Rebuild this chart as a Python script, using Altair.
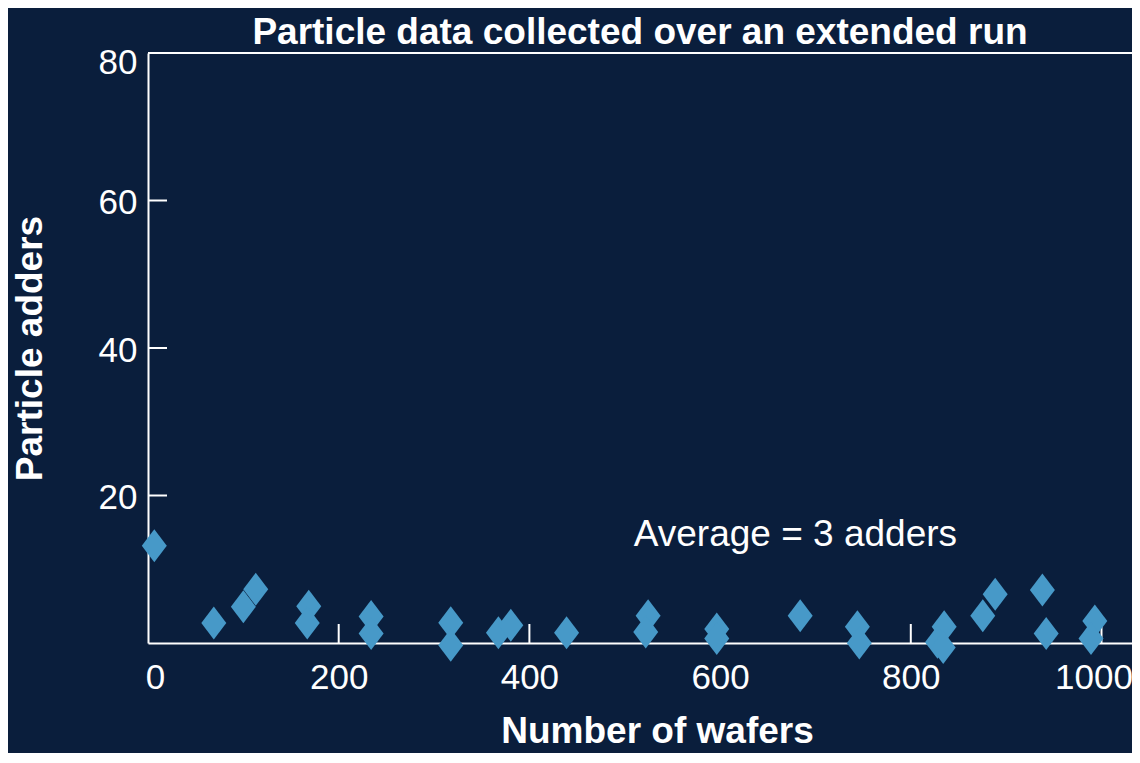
import altair as alt
import pandas as pd

# Data
wafers = [6.6, 69, 100, 113, 168.6, 167, 234, 234, 317.5, 317.5, 367.5, 380.5, 439,
          524.5, 522, 596.5, 596.5, 684, 744, 746, 835, 828, 834, 875.5, 888.5,
          938, 942, 993, 989]
adders = [13.2, 2.7, 4.9, 7.3, 5.0, 2.7, 3.6, 1.3, 2.75, -0.3, 1.4, 2.4, 1.4,
          3.7, 1.5, 1.9, 0.6, 3.7, 2.2, 0.0, 2.2, 0.1, -0.6, 3.7, 6.6,
          7.2, 1.3, 3.0, 0.6]
x_ticks = [0, 200, 400, 600, 800, 1000]
y_ticks = [20, 40, 60, 80]
inner_x_ticks = [200, 400, 600, 800, 1000]
inner_y_ticks = [20, 40, 60]
x_domain = [0, 1032]
y_domain = [0, 80]
note_text = "Average = 3 adders"
note_x = [679]
note_y = [14.6]

BG = "#0a1e3c"
FG = "#ffffff"
PT = "#4799c8"
W, H = 984, 590
FONT = "Liberation Sans"

pts = pd.DataFrame({"wafers": wafers, "adders": adders})

xs = alt.Scale(domain=x_domain, nice=False, zero=False)
ys = alt.Scale(domain=y_domain, nice=False, zero=False)

x_label_offset = {"condition": [{"test": "datum.value == 0", "value": 7},
                                {"test": "datum.value == 1000", "value": -8}],
                  "value": 0}
y_label_offset = {"condition": [{"test": "datum.value == 80", "value": 9}],
                  "value": 2}

xaxis = alt.Axis(values=x_ticks, format="d", ticks=False, tickSize=0, grid=False,
                 domainColor=FG, domainWidth=2, labelColor=FG, labelFontSize=35,
                 labelFont=FONT, labelPadding=17, labelFlush=False, labelOverlap=False,
                 labelOffset=x_label_offset,
                 title="Number of wafers", titleFontSize=37, titleFont=FONT,
                 titleFontWeight="bold", titleColor=FG, titleX=509, titleY=99,
                 titleBaseline="alphabetic", titleAlign="center")
yaxis = alt.Axis(values=y_ticks, ticks=False, tickSize=0, grid=False, domainColor=FG,
                 domainWidth=2, labelColor=FG, labelFontSize=35, labelFont=FONT,
                 labelPadding=11, labelFlush=False, labelOverlap=False,
                 labelOffset=y_label_offset,
                 title="Particle adders", titleFontSize=37, titleFont=FONT,
                 titleFontWeight="bold", titleColor=FG, titleX=-118, titleY=H / 2,
                 titleAngle=-90, titleBaseline="middle", titleAlign="center")

points = alt.Chart(pts).mark_point(
    shape="M0,-1.32L1,0L0,1.32L-1,0Z", size=625, filled=True, color=PT,
    opacity=1, strokeWidth=0
).encode(
    x=alt.X("wafers:Q", scale=xs, axis=xaxis),
    y=alt.Y("adders:Q", scale=ys, axis=yaxis),
)

xt = alt.Chart(pd.DataFrame({"t": inner_x_ticks})).mark_rule(
    color=FG, strokeWidth=2
).encode(
    x=alt.X("t:Q", scale=xs), y=alt.value(H - 19), y2=alt.value(H)
)
yt = alt.Chart(pd.DataFrame({"t": inner_y_ticks})).mark_rule(
    color=FG, strokeWidth=2
).encode(
    y=alt.Y("t:Q", scale=ys), x=alt.value(0), x2=alt.value(19)
)
top_line = alt.Chart(pd.DataFrame({"t": [y_domain[1]]})).mark_rule(
    color=FG, strokeWidth=2
).encode(
    y=alt.Y("t:Q", scale=ys), x=alt.value(0), x2=alt.value(W)
)
note = alt.Chart(pd.DataFrame({"x": note_x, "y": note_y, "label": [note_text]})).mark_text(
    font=FONT, fontSize=37, color=FG, align="center", baseline="middle"
).encode(
    x=alt.X("x:Q", scale=xs), y=alt.Y("y:Q", scale=ys), text="label:N"
)

chart = alt.layer(xt, yt, top_line, note, points).properties(
    width=W, height=H,
    title=alt.TitleParams("Particle data collected over an extended run", fontSize=37,
                          font=FONT, fontWeight="bold", color=FG, anchor="middle",
                          offset=10, dy=17),
    autosize=alt.AutoSizeParams(type="none"),
    padding={"left": 140, "top": 45, "right": 0, "bottom": 110},
    background=BG,
).configure_view(stroke=None)

chart.save("out.html", embed_options={"renderer": "svg", "actions": False})
